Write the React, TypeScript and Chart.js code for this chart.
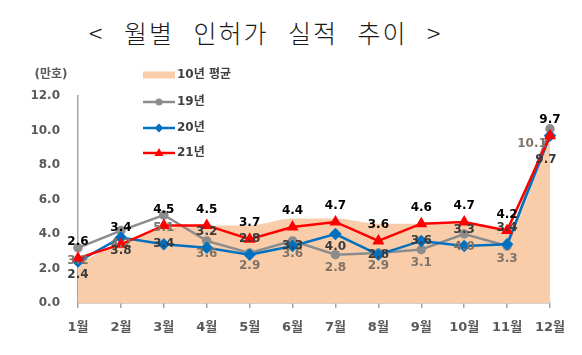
import React, { useEffect, useRef } from 'react';
import { Chart, registerables } from 'chart.js';

Chart.register(...registerables);

// ---- data ----
const months = ['1월', '2월', '3월', '4월', '5월', '6월', '7월', '8월', '9월', '10월', '11월', '12월'];
const avg10 = [2.3, 3.5, 4.3, 4.5, 4.5, 4.9, 4.9, 4.6, 4.6, 4.6, 4.3, 9.6];
const y19 = [3.2, 4.2, 5.1, 3.6, 2.9, 3.6, 2.8, 2.9, 3.1, 4.0, 3.3, 10.1];
const y20 = [2.4, 3.8, 3.4, 3.2, 2.8, 3.3, 4.0, 2.8, 3.6, 3.3, 3.4, 9.7];
const y21 = [2.6, 3.4, 4.5, 4.5, 3.7, 4.4, 4.7, 3.6, 4.6, 4.7, 4.2, 9.7];
const yTicks = [0, 2, 4, 6, 8, 10, 12];

const seriesNames = ['10년 평균', '19년', '20년', '21년'];
const unitLabel = '(만호)';
const titleText = '< 월별 인허가 실적 추이 >';

// label placement styles (not data)
const place19 = ['below', 'below', 'below', 'below', 'below', 'below', 'below', 'below', 'below', 'below', 'below', 'belowLeft'];
const place20 = ['below', 'below', 'center', 'above', 'above', 'center', 'below', 'center', 'center', 'above', 'above', 'belowFar'];
const place21 = ['above', 'above', 'above', 'above', 'above', 'above', 'above', 'above', 'above', 'above', 'above', 'above'];

const AREA = '#F9CDAA';
const GRAY = '#8C8C8C';
const BLUE = '#0070C0';
const RED = '#FF0000';
const FONT = '"DejaVu Sans", "Noto Sans CJK KR", sans-serif';

const labelPlugin = {
  id: 'customLabels',
  afterDatasetsDraw(chart: any) {
    const ctx = chart.ctx;
    ctx.save();
    ctx.font = `bold 12px ${FONT}`;
    ctx.textAlign = 'center';
    ctx.textBaseline = 'middle';
    const specs = [
      { idx: 1, values: y19, place: place19, color: '#7f7367' },
      { idx: 2, values: y20, place: place20, color: '#3a3a3a' },
      { idx: 3, values: y21, place: place21, color: '#000000' },
    ];
    specs.forEach((s) => {
      const meta = chart.getDatasetMeta(s.idx);
      meta.data.forEach((pt: any, i: number) => {
        let x = pt.x;
        let y = pt.y;
        const p = s.place[i];
        if (p === 'above') y -= 16;
        else if (p === 'below') y += 13;
        else if (p === 'belowFar') { y += 24; x -= 4; }
        else if (p === 'belowLeft') { x -= 18; y += 15; }
        ctx.fillStyle = s.color;
        ctx.fillText(s.values[i].toFixed(1), x, y);
      });
    });
    ctx.restore();
  },
  afterDraw(chart: any) {
    const ctx = chart.ctx;
    const { left, top } = chart.chartArea;
    ctx.save();
    // unit label
    ctx.font = `bold 12px ${FONT}`;
    ctx.fillStyle = '#595959';
    ctx.textAlign = 'center';
    ctx.textBaseline = 'middle';
    ctx.fillText(unitLabel, left - 27, top - 21);

    // legend
    const x0 = left + 65;
    const x1 = left + 97;
    const xm = (x0 + x1) / 2;
    const rows = [top - 21, top + 6, top + 32, top + 57];
    const styles = chart.data.datasets;
    rows.forEach((ry, i) => {
      const ds = styles[i];
      if (i === 0) {
        ctx.fillStyle = AREA;
        ctx.fillRect(x0, ry - 3.5, x1 - x0, 7);
      } else {
        ctx.strokeStyle = ds.borderColor;
        ctx.lineWidth = 2.5;
        ctx.beginPath();
        ctx.moveTo(x0, ry);
        ctx.lineTo(x1, ry);
        ctx.stroke();
        ctx.fillStyle = ds.borderColor;
        ctx.beginPath();
        if (ds.pointStyle === 'circle') {
          ctx.arc(xm, ry, 3.5, 0, Math.PI * 2);
        } else if (ds.pointStyle === 'rectRot') {
          ctx.moveTo(xm, ry - 4.5);
          ctx.lineTo(xm + 4.5, ry);
          ctx.lineTo(xm, ry + 4.5);
          ctx.lineTo(xm - 4.5, ry);
          ctx.closePath();
        } else {
          ctx.moveTo(xm, ry - 5);
          ctx.lineTo(xm + 4.5, ry + 3);
          ctx.lineTo(xm - 4.5, ry + 3);
          ctx.closePath();
        }
        ctx.fill();
      }
      ctx.fillStyle = '#404040';
      ctx.font = `bold 12px ${FONT}`;
      ctx.textAlign = 'left';
      ctx.textBaseline = 'middle';
      ctx.fillText(seriesNames[i], x1 + 2, ry);
    });
    ctx.restore();
  },
};

export default function App() {
  const canvasRef = useRef<HTMLCanvasElement | null>(null);

  useEffect(() => {
    if (!canvasRef.current) return;
    const chart = new Chart(canvasRef.current, {
      type: 'line',
      data: {
        labels: months,
        datasets: [
          {
            label: seriesNames[0],
            data: avg10,
            fill: 'origin',
            backgroundColor: AREA,
            borderColor: AREA,
            borderWidth: 0,
            pointRadius: 0,
            cubicInterpolationMode: 'monotone',
            order: 4,
          },
          {
            label: seriesNames[1],
            data: y19,
            borderColor: GRAY,
            backgroundColor: GRAY,
            borderWidth: 2.5,
            pointStyle: 'circle',
            pointRadius: 3.5,
            fill: false,
            order: 3,
          },
          {
            label: seriesNames[2],
            data: y20,
            borderColor: BLUE,
            backgroundColor: BLUE,
            borderWidth: 2.5,
            pointStyle: 'rectRot',
            pointRadius: 4.5,
            fill: false,
            order: 2,
          },
          {
            label: seriesNames[3],
            data: y21,
            borderColor: RED,
            backgroundColor: RED,
            borderWidth: 2.5,
            pointStyle: 'triangle',
            pointRadius: 4.5,
            fill: false,
            order: 1,
          },
        ],
      },
      options: {
        animation: false,
        responsive: false,
        devicePixelRatio: 1,
        layout: { padding: { left: 0, right: 32, top: 96, bottom: 0 } },
        plugins: {
          legend: { display: false },
          tooltip: { enabled: false },
          title: { display: false },
        },
        scales: {
          x: {
            type: 'category',
            offset: false,
            grid: {
              display: true,
              drawOnChartArea: false,
              drawTicks: true,
              tickLength: 5,
              color: '#A6A6A6',
              lineWidth: 1.5,
            },
            border: { display: true, color: '#A6A6A6', width: 1.5 },
            ticks: {
              padding: 12,
              color: '#595959',
              font: { family: FONT, size: 13, weight: 'bold' },
              maxRotation: 0,
              autoSkip: false,
            },
            afterFit: (scale: any) => { scale.height = 52; },
          },
          y: {
            min: 0,
            max: 12,
            afterBuildTicks: (scale: any) => {
              scale.ticks = yTicks.map((v) => ({ value: v }));
            },
            grid: { display: true, drawOnChartArea: false, drawTicks: false },
            border: { display: true, color: '#A6A6A6', width: 1.5 },
            ticks: {
              padding: 18,
              color: '#595959',
              font: { family: FONT, size: 12, weight: 'bold' },
              callback: (v: any) => Number(v).toFixed(1),
            },
            afterFit: (scale: any) => { scale.width = 78; },
          },
        },
      } as any,
      plugins: [labelPlugin],
    });
    return () => chart.destroy();
  }, []);

  return (
    <div style={{ position: 'relative', width: 582, height: 355, background: '#fff' }}>
      <style>{`body{margin:0}`}</style>
      <div
        style={{
          position: 'absolute',
          left: 89,
          top: 18,
          fontFamily: '"Noto Sans CJK KR", sans-serif',
          fontSize: 25,
          fontWeight: 300,
          lineHeight: '28px',
          letterSpacing: 2,
          wordSpacing: 12,
          color: '#1a1a1a',
          whiteSpace: 'pre',
        }}
      >
        {titleText}
      </div>
      <canvas ref={canvasRef} width={582} height={355} style={{ position: 'absolute', left: 0, top: 0 }} />
    </div>
  );
}
